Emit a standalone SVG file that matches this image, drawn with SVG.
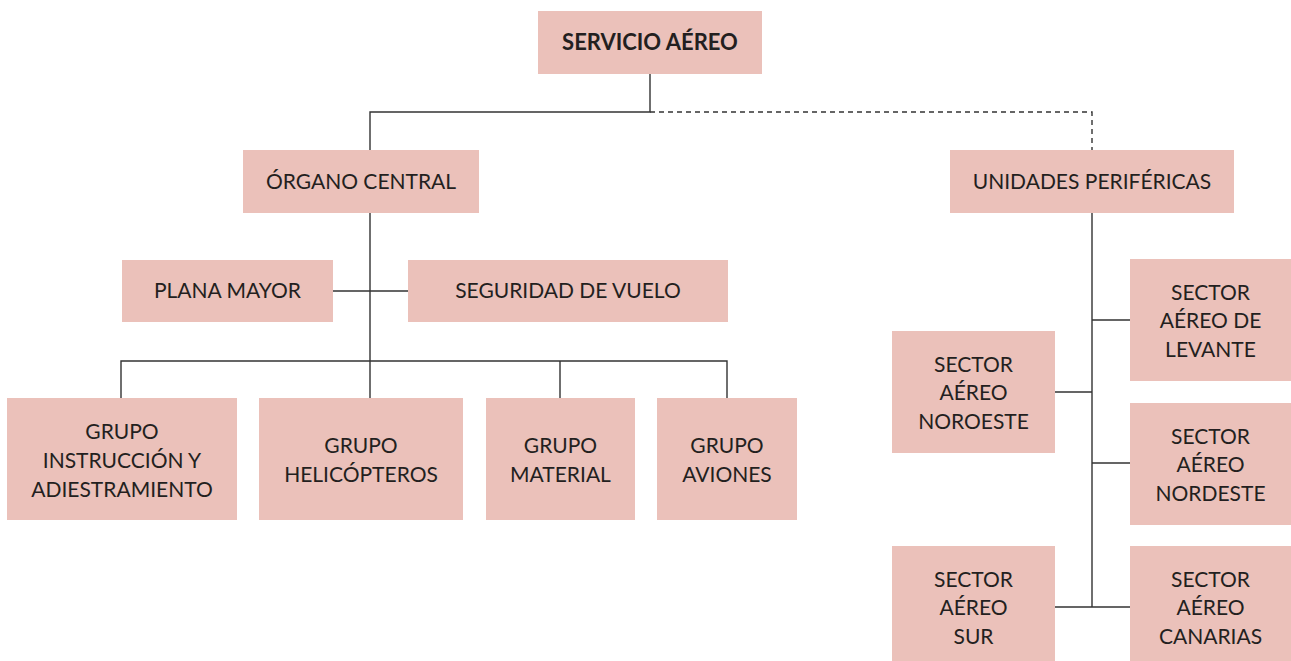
<svg xmlns="http://www.w3.org/2000/svg" width="1291" height="661" viewBox="0 0 1291 661">
<style>
.box{fill:#ebc1ba}
.t{font-family:Lato,"Liberation Sans",sans-serif;font-size:21px;fill:#231f20;text-anchor:middle}
.b{font-weight:bold;font-size:22px}
.ln{stroke:#333;stroke-width:1.4;fill:none}
.dash{stroke-dasharray:5,4}
</style>
<rect width="1291" height="661" fill="#fff"/>
<g id="connectors">
<path class="ln" d="M650 74V112H370V150M370 213V398M333 291H408M121 398V361H727V398M560 361V398"/>
<path class="ln dash" d="M650 112H1092V150"/>
<path class="ln" d="M1092 213V607M1092 320H1130M1055 392H1092M1092 463H1130M1055 607H1130"/>
</g>
<g id="servicio"><rect class="box" x="538" y="11" width="224" height="63"/><text class="t b" x="650" y="50">SERVICIO AÉREO</text></g>
<g id="organo"><rect class="box" x="243" y="150" width="236" height="63"/><text class="t" x="361" y="189">ÓRGANO CENTRAL</text></g>
<g id="unidades"><rect class="box" x="950" y="150" width="284" height="63"/><text class="t" x="1092" y="189">UNIDADES PERIFÉRICAS</text></g>
<g id="plana"><rect class="box" x="122" y="260" width="211" height="62"/><text class="t" x="227.5" y="298">PLANA MAYOR</text></g>
<g id="seguridad"><rect class="box" x="408" y="260" width="320" height="62"/><text class="t" x="568" y="298">SEGURIDAD DE VUELO</text></g>
<g id="g1"><rect class="box" x="7" y="398" width="230" height="122"/><text class="t" x="122" y="439">GRUPO</text><text class="t" x="122" y="468">INSTRUCCIÓN Y</text><text class="t" x="122" y="497">ADIESTRAMIENTO</text></g>
<g id="g2"><rect class="box" x="259" y="398" width="204" height="122"/><text class="t" x="361" y="453">GRUPO</text><text class="t" x="361" y="482">HELICÓPTEROS</text></g>
<g id="g3"><rect class="box" x="486" y="398" width="149" height="122"/><text class="t" x="560.5" y="453">GRUPO</text><text class="t" x="560.5" y="482">MATERIAL</text></g>
<g id="g4"><rect class="box" x="657" y="398" width="140" height="122"/><text class="t" x="727" y="453">GRUPO</text><text class="t" x="727" y="482">AVIONES</text></g>
<g id="levante"><rect class="box" x="1130" y="259" width="161" height="122"/><text class="t" x="1210.5" y="300">SECTOR</text><text class="t" x="1210.5" y="328">AÉREO DE</text><text class="t" x="1210.5" y="357">LEVANTE</text></g>
<g id="noroeste"><rect class="box" x="892" y="331" width="163" height="122"/><text class="t" x="973.5" y="372">SECTOR</text><text class="t" x="973.5" y="400">AÉREO</text><text class="t" x="973.5" y="429">NOROESTE</text></g>
<g id="nordeste"><rect class="box" x="1130" y="403" width="161" height="122"/><text class="t" x="1210.5" y="444">SECTOR</text><text class="t" x="1210.5" y="472">AÉREO</text><text class="t" x="1210.5" y="501">NORDESTE</text></g>
<g id="sur"><rect class="box" x="892" y="546" width="163" height="115"/><text class="t" x="973.5" y="587">SECTOR</text><text class="t" x="973.5" y="615">AÉREO</text><text class="t" x="973.5" y="644">SUR</text></g>
<g id="canarias"><rect class="box" x="1130" y="546" width="161" height="115"/><text class="t" x="1210.5" y="587">SECTOR</text><text class="t" x="1210.5" y="615">AÉREO</text><text class="t" x="1210.5" y="644">CANARIAS</text></g>
</svg>
